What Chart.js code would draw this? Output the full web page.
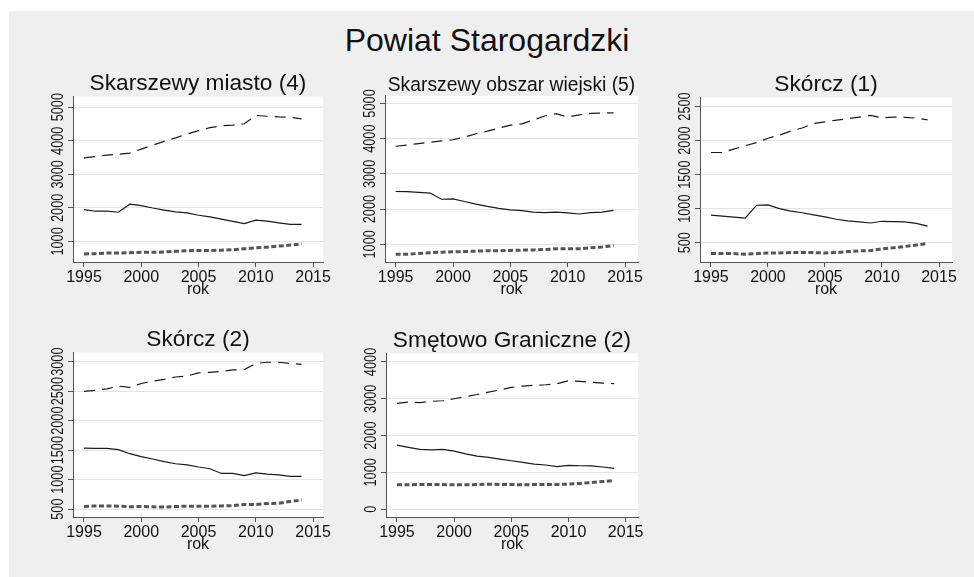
<!DOCTYPE html>
<html>
<head>
<meta charset="utf-8">
<script src="https://cdn.jsdelivr.net/npm/chart.js@4"></script>
<style>
  body { margin: 0; background: #fff; }
  #page { position: absolute; left: 9px; top: 11px; width: 965px; height: 566px; background: #efefef; }
  #mainTitle { position: absolute; left: 0; top: 22px; width: 974px; text-align: center;
    font: 32px "Liberation Sans", Arial, sans-serif; color: #111; }
  canvas { position: absolute; }
</style>
</head>
<body>
<div id="page"></div>
<div id="mainTitle">Powiat Starogardzki</div>
<canvas id="c1"></canvas>
<canvas id="c2"></canvas>
<canvas id="c3"></canvas>
<canvas id="c4"></canvas>
<canvas id="c5"></canvas>
<script>
// lata
const years = [1995,1996,1997,1998,1999,2000,2001,2002,2003,2004,2005,2006,2007,2008,2009,2010,2011,2012,2013,2014];
const xTicks = [1995, 2000, 2005, 2010, 2015];

// Skarszewy miasto (4)
const smProd = [3490,3530,3570,3600,3630,3750,3870,3980,4085,4200,4300,4390,4445,4465,4505,4755,4730,4710,4700,4650];
const smPrzed = [1945,1900,1900,1870,2110,2065,1995,1935,1880,1850,1780,1730,1665,1595,1530,1635,1605,1555,1510,1510];
const smPo = [625,635,655,655,665,675,675,685,705,725,730,730,740,750,780,810,830,860,890,925];
const smTicks = [1000,2000,3000,4000,5000];

// Skarszewy obszar wiejski (5)
const swProd = [3785,3820,3860,3895,3935,3970,4045,4140,4215,4300,4385,4420,4530,4645,4710,4615,4675,4720,4730,4730];
const swPrzed = [2500,2495,2475,2455,2280,2290,2215,2140,2075,2020,1980,1955,1915,1900,1915,1890,1860,1900,1915,1965];
const swPo = [720,720,740,760,775,785,795,805,815,815,825,835,840,850,870,870,870,900,925,965];
const swTicks = [1000,2000,3000,4000,5000];

// Skórcz (1)
const sk1Prod = [1825,1825,1875,1925,1970,2035,2080,2140,2185,2250,2275,2300,2320,2345,2370,2335,2345,2340,2330,2305];
const sk1Przed = [905,890,875,860,1050,1055,1000,965,940,910,880,845,820,805,790,815,810,805,785,745];
const sk1Po = [340,340,340,330,340,350,350,355,355,355,350,355,370,380,385,410,425,445,465,490];
const sk1Ticks = [500,1000,1500,2000,2500];

// Skórcz (2)
const sk2Prod = [2495,2515,2540,2585,2565,2630,2670,2700,2740,2755,2810,2820,2835,2860,2865,2970,2990,2990,2970,2955];
const sk2Przed = [1535,1530,1530,1510,1440,1390,1350,1305,1270,1250,1215,1185,1105,1105,1070,1115,1095,1080,1055,1055];
const sk2Po = [545,555,555,550,540,545,540,535,545,550,550,550,555,560,580,580,595,600,630,655];
const sk2Ticks = [500,1000,1500,2000,2500,3000];

// Smętowo Graniczne (2)
const sgProd = [2875,2910,2895,2930,2945,3000,3060,3115,3180,3240,3310,3345,3365,3380,3410,3490,3470,3445,3425,3410];
const sgPrzed = [1740,1680,1625,1610,1625,1575,1500,1440,1405,1360,1315,1270,1225,1200,1155,1190,1180,1175,1145,1110];
const sgPo = [660,660,670,670,670,660,660,670,680,670,670,660,670,670,670,680,700,725,750,780];
const sgTicks = [0,1000,2000,3000,4000];

const FONT = '"Liberation Sans", Arial, sans-serif';
Chart.defaults.font.family = FONT;
Chart.defaults.color = '#111';

const SIDE = 45;    // margines po obu stronach obszaru wykresu
const TOP_H = 30;   // tytuł panelu
const BOT_H = 45;   // etykiety osi x + "rok"

// białe tło obszaru wykresu
const plotBg = {
  id: 'plotBg',
  beforeDraw(chart) {
    const { ctx, chartArea: a } = chart;
    ctx.save();
    ctx.fillStyle = '#fff';
    ctx.fillRect(a.left, a.top, a.right - a.left, a.bottom - a.top);
    ctx.restore();
  }
};

// pionowe, zwężone etykiety osi y (Chart.js nie obraca etykiet osi pionowej)
const rotatedY = {
  id: 'rotatedY',
  afterDraw(chart) {
    const y = chart.scales.y;
    const ctx = chart.ctx;
    ctx.save();
    ctx.font = '17px ' + FONT;
    ctx.fillStyle = '#111';
    ctx.textAlign = 'center';
    ctx.textBaseline = 'alphabetic';
    y.ticks.forEach(t => {
      ctx.save();
      ctx.translate(chart.chartArea.left - 10, y.getPixelForValue(t.value));
      ctx.rotate(-Math.PI / 2);
      ctx.scale(0.75, 1);
      ctx.fillText(String(t.value), 0, 0);
      ctx.restore();
    });
    ctx.restore();
  }
};

const pts = arr => arr.map((v, i) => ({ x: years[i], y: v }));

function panel(id, title, titleSize, box, xr, yr, yTicks, prod, przed, po) {
  const cv = document.getElementById(id);
  cv.width = (box.R - box.L) + 2 * SIDE;
  cv.height = (box.B - box.T) + TOP_H + BOT_H;
  cv.style.left = (box.L - SIDE) + 'px';
  cv.style.top = (box.T - TOP_H) + 'px';

  new Chart(cv, {
    type: 'line',
    data: {
      datasets: [
        { data: pts(prod), borderColor: '#1a1a1a', borderWidth: 1.2, borderDash: [11, 7] },
        { data: pts(przed), borderColor: '#1a1a1a', borderWidth: 1.2 },
        { data: pts(po), borderColor: '#555', borderWidth: 3, borderDash: [5, 2.5] }
      ]
    },
    options: {
      responsive: false,
      animation: false,
      devicePixelRatio: 1,
      layout: { padding: { left: SIDE, right: SIDE, top: 0, bottom: 0 } },
      elements: { point: { radius: 0 }, line: { tension: 0 } },
      plugins: {
        legend: { display: false },
        tooltip: { enabled: false },
        title: {
          display: true, text: title, color: '#111',
          font: { size: titleSize, weight: 'normal', lineHeight: 1 },
          padding: { top: 29 - titleSize * 0.85, bottom: 1 }
        }
      },
      scales: {
        x: {
          type: 'linear', min: xr[0], max: xr[1],
          afterBuildTicks: s => { s.ticks = xTicks.map(v => ({ value: v })); },
          afterFit: s => { s.height = BOT_H; },
          grid: { drawOnChartArea: false, color: '#555', tickLength: 5 },
          border: { color: '#555', width: 1 },
          ticks: { font: { size: 16 }, padding: 1, maxRotation: 0, color: '#111', callback: v => String(v) },
          title: { display: true, text: 'rok', font: { size: 16 }, padding: { top: 0, bottom: 8 }, color: '#111' }
        },
        y: {
          min: yr[0], max: yr[1],
          afterBuildTicks: s => { s.ticks = yTicks.map(v => ({ value: v })); },
          afterFit: s => { s.width = 0; },
          grid: { color: '#e4e4e4', tickColor: '#555', tickLength: 5 },
          border: { color: '#555', width: 1 },
          ticks: { display: false }
        }
      }
    },
    plugins: [plotBg, rotatedY]
  });
}

panel('c1', 'Skarszewy miasto (4)', 22.7, { L: 73, R: 323, T: 93, B: 262 }, [1994.04, 2015.87], [387, 5321], smTicks, smProd, smPrzed, smPo);
panel('c2', 'Skarszewy obszar wiejski (5)', 19.3, { L: 385, R: 638, T: 93, B: 262 }, [1994.07, 2016.13], [497, 5215], swTicks, swProd, swPrzed, swPo);
panel('c3', 'Skórcz (1)', 22.7, { L: 700, R: 952, T: 94, B: 262 }, [1994.04, 2016.14], [217, 2634], sk1Ticks, sk1Prod, sk1Przed, sk1Po);
panel('c4', 'Skórcz (2)', 22.7, { L: 73, R: 323, T: 349, B: 517 }, [1994.04, 2015.87], [367, 3157], sk2Ticks, sk2Prod, sk2Przed, sk2Po);
panel('c5', 'Smętowo Graniczne (2)', 22.7, { L: 386, R: 638, T: 350, B: 517 }, [1994.04, 2016.08], [-213, 4232], sgTicks, sgProd, sgPrzed, sgPo);
</script>
</body>
</html>
